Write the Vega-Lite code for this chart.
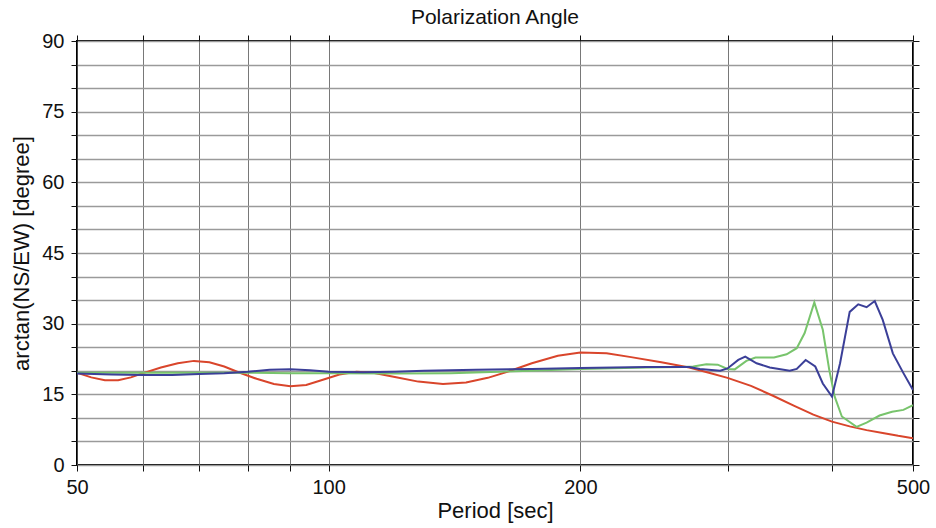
{
  "$schema": "https://vega.github.io/schema/vega-lite/v6.json",
  "width": 836,
  "height": 424,
  "autosize": {"type": "none"},
  "padding": {"left": 77, "top": 41, "right": 23, "bottom": 63},
  "background": "white",
  "title": {"text": "Polarization Angle", "font": "Liberation Sans", "fontSize": 21, "fontWeight": "normal", "color": "#111", "offset": 3},
  "config": {
    "view": {"stroke": "black", "strokeWidth": 2},
    "axis": {"labelFont": "Liberation Sans", "titleFont": "Liberation Sans", "labelFontSize": 20, "titleFontSize": 22, "titleFontWeight": "normal", "labelColor": "#111", "titleColor": "#111", "tickColor": "#111", "domain": false}
  },
  "data": {"values": [
    {"p": 50, "v": 19.6, "s": "red"}, {"p": 52, "v": 18.6, "s": "red"}, {"p": 54, "v": 18.0, "s": "red"}, {"p": 56, "v": 18.0, "s": "red"}, {"p": 58, "v": 18.6, "s": "red"}, {"p": 60, "v": 19.5, "s": "red"}, {"p": 63, "v": 20.7, "s": "red"}, {"p": 66, "v": 21.6, "s": "red"}, {"p": 69, "v": 22.1, "s": "red"}, {"p": 72, "v": 21.8, "s": "red"}, {"p": 75, "v": 20.9, "s": "red"}, {"p": 78, "v": 19.7, "s": "red"}, {"p": 82, "v": 18.3, "s": "red"}, {"p": 86, "v": 17.2, "s": "red"}, {"p": 90, "v": 16.7, "s": "red"}, {"p": 94, "v": 17.0, "s": "red"}, {"p": 98, "v": 18.0, "s": "red"}, {"p": 103, "v": 19.2, "s": "red"}, {"p": 108, "v": 19.8, "s": "red"}, {"p": 113, "v": 19.6, "s": "red"}, {"p": 120, "v": 18.7, "s": "red"}, {"p": 128, "v": 17.7, "s": "red"}, {"p": 137, "v": 17.2, "s": "red"}, {"p": 146, "v": 17.5, "s": "red"}, {"p": 155, "v": 18.5, "s": "red"}, {"p": 165, "v": 20.0, "s": "red"}, {"p": 175, "v": 21.6, "s": "red"}, {"p": 188, "v": 23.2, "s": "red"}, {"p": 200, "v": 23.9, "s": "red"}, {"p": 215, "v": 23.7, "s": "red"}, {"p": 230, "v": 22.9, "s": "red"}, {"p": 250, "v": 21.8, "s": "red"}, {"p": 270, "v": 20.7, "s": "red"}, {"p": 285, "v": 19.6, "s": "red"}, {"p": 300, "v": 18.5, "s": "red"}, {"p": 320, "v": 16.8, "s": "red"}, {"p": 340, "v": 14.7, "s": "red"}, {"p": 360, "v": 12.6, "s": "red"}, {"p": 380, "v": 10.7, "s": "red"}, {"p": 400, "v": 9.2, "s": "red"}, {"p": 420, "v": 8.2, "s": "red"}, {"p": 440, "v": 7.4, "s": "red"}, {"p": 460, "v": 6.8, "s": "red"}, {"p": 480, "v": 6.2, "s": "red"}, {"p": 500, "v": 5.7, "s": "red"},

    {"p": 50, "v": 19.6, "s": "green"}, {"p": 60, "v": 19.6, "s": "green"}, {"p": 70, "v": 19.6, "s": "green"}, {"p": 80, "v": 19.6, "s": "green"}, {"p": 90, "v": 19.5, "s": "green"}, {"p": 100, "v": 19.5, "s": "green"}, {"p": 120, "v": 19.4, "s": "green"}, {"p": 140, "v": 19.5, "s": "green"}, {"p": 160, "v": 19.8, "s": "green"}, {"p": 200, "v": 20.4, "s": "green"}, {"p": 240, "v": 20.7, "s": "green"}, {"p": 265, "v": 20.8, "s": "green"}, {"p": 273, "v": 20.9, "s": "green"}, {"p": 283, "v": 21.4, "s": "green"}, {"p": 292, "v": 21.3, "s": "green"}, {"p": 300, "v": 20.4, "s": "green"}, {"p": 306, "v": 20.3, "s": "green"}, {"p": 316, "v": 22.1, "s": "green"}, {"p": 324, "v": 22.8, "s": "green"}, {"p": 341, "v": 22.8, "s": "green"}, {"p": 353, "v": 23.5, "s": "green"}, {"p": 363, "v": 24.8, "s": "green"}, {"p": 371, "v": 28.0, "s": "green"}, {"p": 381, "v": 34.5, "s": "green"}, {"p": 390, "v": 28.7, "s": "green"}, {"p": 397, "v": 20.2, "s": "green"}, {"p": 403, "v": 14.5, "s": "green"}, {"p": 411, "v": 10.3, "s": "green"}, {"p": 428, "v": 8.1, "s": "green"}, {"p": 440, "v": 9.0, "s": "green"}, {"p": 456, "v": 10.5, "s": "green"}, {"p": 472, "v": 11.3, "s": "green"}, {"p": 487, "v": 11.7, "s": "green"}, {"p": 500, "v": 12.7, "s": "green"},

    {"p": 50, "v": 19.4, "s": "blue"}, {"p": 55, "v": 19.2, "s": "blue"}, {"p": 60, "v": 19.1, "s": "blue"}, {"p": 65, "v": 19.1, "s": "blue"}, {"p": 70, "v": 19.3, "s": "blue"}, {"p": 75, "v": 19.5, "s": "blue"}, {"p": 80, "v": 19.8, "s": "blue"}, {"p": 85, "v": 20.2, "s": "blue"}, {"p": 90, "v": 20.3, "s": "blue"}, {"p": 95, "v": 20.1, "s": "blue"}, {"p": 100, "v": 19.8, "s": "blue"}, {"p": 110, "v": 19.7, "s": "blue"}, {"p": 120, "v": 19.8, "s": "blue"}, {"p": 130, "v": 20.0, "s": "blue"}, {"p": 150, "v": 20.2, "s": "blue"}, {"p": 175, "v": 20.4, "s": "blue"}, {"p": 200, "v": 20.6, "s": "blue"}, {"p": 240, "v": 20.8, "s": "blue"}, {"p": 270, "v": 20.8, "s": "blue"}, {"p": 278, "v": 20.4, "s": "blue"}, {"p": 294, "v": 20.0, "s": "blue"}, {"p": 300, "v": 20.5, "s": "blue"}, {"p": 309, "v": 22.3, "s": "blue"}, {"p": 315, "v": 23.0, "s": "blue"}, {"p": 325, "v": 21.6, "s": "blue"}, {"p": 337, "v": 20.7, "s": "blue"}, {"p": 356, "v": 20.0, "s": "blue"}, {"p": 363, "v": 20.4, "s": "blue"}, {"p": 372, "v": 22.3, "s": "blue"}, {"p": 382, "v": 20.9, "s": "blue"}, {"p": 390, "v": 17.3, "s": "blue"}, {"p": 400, "v": 14.5, "s": "blue"}, {"p": 409, "v": 21.6, "s": "blue"}, {"p": 420, "v": 32.5, "s": "blue"}, {"p": 430, "v": 34.1, "s": "blue"}, {"p": 440, "v": 33.5, "s": "blue"}, {"p": 450, "v": 34.8, "s": "blue"}, {"p": 460, "v": 30.8, "s": "blue"}, {"p": 473, "v": 23.7, "s": "blue"}, {"p": 487, "v": 19.5, "s": "blue"}, {"p": 500, "v": 15.9, "s": "blue"}
  ]},
  "resolve": {"axis": {"x": "independent", "y": "independent"}},
  "layer": [
    {
      "mark": {"type": "line", "strokeWidth": 2, "clip": true},
      "encoding": {
        "x": {"field": "p", "type": "quantitative", "scale": {"type": "log", "domain": [50, 500], "nice": false},
          "axis": {"orient": "bottom", "title": "Period [sec]", "values": [50, 60, 70, 80, 90, 100, 200, 300, 400, 500], "labelExpr": "indexof([50,100,200,500], datum.value) >= 0 ? datum.label : ''", "grid": true, "gridColor": "#555", "gridWidth": 0.8, "gridOpacity": 1, "tickSize": 6, "labelPadding": 6, "titlePadding": 3, "labelFlush": false}},
        "y": {"field": "v", "type": "quantitative", "scale": {"domain": [0, 90], "nice": false, "zero": true},
          "axis": {"orient": "left", "title": "arctan(NS/EW) [degree]", "values": [0, 5, 10, 15, 20, 25, 30, 35, 40, 45, 50, 55, 60, 65, 70, 75, 80, 85, 90], "labelExpr": "datum.value % 15 === 0 ? datum.label : ''", "grid": true, "gridColor": "#9a9a9a", "gridWidth": 1.3, "gridOpacity": 1, "tickSize": 6, "labelPadding": 7, "titlePadding": 8}},
        "color": {"field": "s", "type": "nominal", "scale": {"domain": ["red", "green", "blue"], "range": ["#d9452b", "#78c46c", "#3b3f98"]}, "legend": null},
        "order": {"field": "p"}
      }
    },
    {
      "mark": {"type": "point", "opacity": 0},
      "encoding": {
        "x": {"field": "p", "type": "quantitative", "scale": {"type": "log", "domain": [50, 500], "nice": false},
          "axis": {"orient": "top", "title": null, "values": [50, 60, 70, 80, 90, 100, 200, 300, 400, 500], "labels": false, "grid": false, "tickSize": 6}},
        "y": {"field": "v", "type": "quantitative", "scale": {"domain": [0, 90], "nice": false},
          "axis": {"orient": "right", "title": null, "values": [0, 5, 10, 15, 20, 25, 30, 35, 40, 45, 50, 55, 60, 65, 70, 75, 80, 85, 90], "labels": false, "grid": false, "tickSize": 6}}
      }
    }
  ]
}
